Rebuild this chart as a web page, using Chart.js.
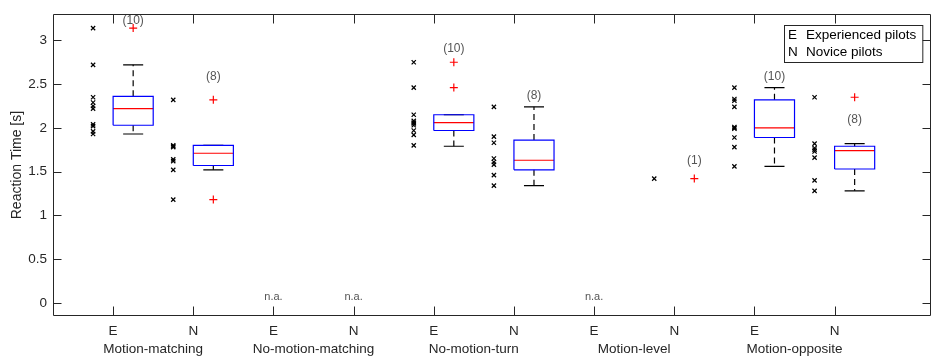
<!DOCTYPE html>
<html>
<head>
<meta charset="utf-8">
<script src="https://cdn.jsdelivr.net/npm/chart.js@4/dist/chart.umd.min.js"></script>
<style>
  body { margin: 0; background: #fff; }
  canvas { display: block; }
</style>
</head>
<body>
<canvas id="rt" width="936" height="362"></canvas>
<script>
// conditions and pilot groups (E = experienced, N = novice)
const groups = ['Motion-matching', 'No-motion-matching', 'No-motion-turn', 'Motion-level', 'Motion-opposite'];
const tickLabels = ['E', 'N', 'E', 'N', 'E', 'N', 'E', 'N', 'E', 'N'];
const yTicks = [0, 0.5, 1, 1.5, 2, 2.5, 3];

// individual reaction times [s], one list per box position
const expMM = [3.14, 2.72, 2.35, 2.29, 2.25, 2.22, 2.04, 2.02, 1.96, 1.93];
const novMM = [2.32, 1.80, 1.79, 1.78, 1.64, 1.62, 1.52, 1.18];
const expNMM = [];
const novNMM = [];
const expNMT = [2.75, 2.46, 2.15, 2.08, 2.06, 2.05, 2.03, 1.97, 1.92, 1.80];
const novNMT = [2.24, 1.90, 1.83, 1.65, 1.61, 1.58, 1.46, 1.34];
const expML = [];
const novML = [1.42];
const expMO = [2.46, 2.33, 2.31, 2.24, 2.01, 2.00, 1.99, 1.89, 1.78, 1.56];
const novMO = [2.35, 1.82, 1.77, 1.75, 1.73, 1.66, 1.40, 1.28];
const samples = [expMM, novMM, expNMM, novNMM, expNMT, novNMT, expML, novML, expMO, novMO];

// box statistics (null = no box)
const q1      = [2.03, 1.57, null, null, 1.97, 1.52, null, null, 1.89, 1.53];
const median  = [2.22, 1.71, null, null, 2.06, 1.63, null, null, 2.00, 1.74];
const q3      = [2.36, 1.80, null, null, 2.15, 1.86, null, null, 2.32, 1.79];
const whiskLo = [1.93, 1.52, null, null, 1.79, 1.34, null, null, 1.56, 1.28];
const whiskHi = [2.72, 1.80, null, null, 2.15, 2.24, null, null, 2.46, 1.82];
const outliers = [[3.14], [2.32, 1.18], [], [], [2.75, 2.46], [], [], [1.42], [], [2.35]];

// height (in s) where the "(n)" count is written
const countY = [3.22, 2.58, null, null, 2.90, 2.37, null, 1.63, 2.58, 2.09];
const naY = 0.07;

const FONT = "'Liberation Sans', Arial, Helvetica, sans-serif";
const AX = '#262626';
const boxW = 0.5, capW = 0.25, rawOff = -0.25;

const rawPts = [], boxPts = [], medPts = [], whiskPts = [], capPts = [], outPts = [];
samples.forEach((vals, i) => {
  const p = i + 1;
  vals.forEach(v => rawPts.push({x: p + rawOff, y: v}));
  const c = p + boxW / 2;
  outliers[i].forEach(v => outPts.push({x: c, y: v}));
  if (q1[i] == null) return;
  const a = p, b = p + boxW;
  boxPts.push({x: a, y: q1[i]}, {x: b, y: q1[i]}, {x: b, y: q3[i]}, {x: a, y: q3[i]}, {x: a, y: q1[i]}, {x: a, y: null});
  medPts.push({x: a, y: median[i]}, {x: b, y: median[i]}, {x: b, y: null});
  whiskPts.push({x: c, y: q3[i]}, {x: c, y: whiskHi[i]}, {x: c, y: null},
                {x: c, y: q1[i]}, {x: c, y: whiskLo[i]}, {x: c, y: null});
  capPts.push({x: c - capW / 2, y: whiskHi[i]}, {x: c + capW / 2, y: whiskHi[i]}, {x: c, y: null},
              {x: c - capW / 2, y: whiskLo[i]}, {x: c + capW / 2, y: whiskLo[i]}, {x: c, y: null});
});

function lineSet(data, color, dash) {
  return {
    data: data, showLine: true, borderColor: color, borderWidth: 1.2,
    borderDash: dash || [], pointRadius: 0, spanGaps: false, fill: false
  };
}

// box frame with inward ticks, group names, counts, legend
const extras = {
  id: 'extras',
  afterDatasetsDraw(chart) {
    const {ctx, scales: {x, y}} = chart;
    ctx.save();
    ctx.textAlign = 'center';
    ctx.textBaseline = 'middle';
    ctx.fillStyle = '#555';
    ctx.font = '12px ' + FONT;
    samples.forEach((vals, i) => {
      if (countY[i] != null) {
        ctx.fillText('(' + vals.length + ')', x.getPixelForValue(i + 1 + boxW / 2), y.getPixelForValue(countY[i]));
      }
      if (!vals.length) {
        ctx.font = '11px ' + FONT;
        ctx.fillText('n.a.', x.getPixelForValue(i + 1), y.getPixelForValue(naY));
        ctx.font = '12px ' + FONT;
      }
    });
    ctx.restore();
  },
  afterDraw(chart) {
    const {ctx, chartArea: a, scales: {x, y}} = chart;
    const L = Math.round(a.left) + 0.5, R = Math.round(a.right) - 0.5;
    const T = Math.round(a.top) + 0.5, B = Math.round(a.bottom) - 0.5;
    ctx.save();
    ctx.strokeStyle = AX;
    ctx.lineWidth = 1;
    ctx.beginPath();
    ctx.rect(L, T, R - L, B - T);
    yTicks.forEach(v => {
      const py = Math.round(y.getPixelForValue(v)) + 0.5;
      ctx.moveTo(L, py); ctx.lineTo(L + 8, py);
      ctx.moveTo(R, py); ctx.lineTo(R - 8, py);
    });
    tickLabels.forEach((_, i) => {
      const px = Math.round(x.getPixelForValue(i + 1)) + 0.5;
      ctx.moveTo(px, B); ctx.lineTo(px, B - 9);
      ctx.moveTo(px, T); ctx.lineTo(px, T + 9);
    });
    ctx.stroke();

    // condition names under each E/N pair
    ctx.fillStyle = AX;
    ctx.font = '13.5px ' + FONT;
    ctx.textAlign = 'center';
    ctx.textBaseline = 'middle';
    groups.forEach((g, k) => {
      ctx.fillText(g, x.getPixelForValue(2 * k + 1.5), 349);
    });

    // legend
    const lx = 784, ly = 25;
    const w = ctx.measureText('Experienced pilots').width + 22 + 6;
    ctx.fillStyle = '#fff';
    ctx.fillRect(lx, ly, w, 37);
    ctx.strokeRect(lx + 0.5, ly + 0.5, w, 37);
    ctx.fillStyle = '#000';
    ctx.textAlign = 'left';
    ctx.fillText('E', lx + 4, 35);
    ctx.fillText('Experienced pilots', lx + 22, 35);
    ctx.fillText('N', lx + 4, 52);
    ctx.fillText('Novice pilots', lx + 22, 52);
    ctx.restore();
  }
};

new Chart(document.getElementById('rt'), {
  type: 'scatter',
  data: {
    datasets: [
      {
        data: rawPts, pointStyle: 'crossRot', pointRadius: 3, pointHoverRadius: 3,
        borderColor: '#000', borderWidth: 1.2, showLine: false
      },
      lineSet(boxPts, '#0000ff'),
      lineSet(whiskPts, '#000', [6, 4]),
      lineSet(capPts, '#000'),
      lineSet(medPts, '#ff0000'),
      {
        data: outPts, pointStyle: 'cross', pointRadius: 4, pointHoverRadius: 4,
        borderColor: '#ff0000', borderWidth: 1.2, showLine: false
      }
    ]
  },
  options: {
    responsive: false,
    animation: false,
    devicePixelRatio: 1,
    layout: { padding: { top: 10, right: 1, left: 0, bottom: 0 } },
    plugins: { legend: { display: false }, tooltip: { enabled: false } },
    scales: {
      x: {
        type: 'linear', min: 0.25, max: 11.2,
        grid: { display: false, drawTicks: false },
        border: { display: false },
        afterBuildTicks: s => { s.ticks = tickLabels.map((_, i) => ({value: i + 1})); },
        afterFit: s => { s.height = 46; },
        ticks: {
          padding: 7, maxRotation: 0, autoSkip: false,
          color: AX, font: { family: FONT, size: 13.5 },
          callback: (v, i) => tickLabels[i]
        }
      },
      y: {
        min: -0.15, max: 3.3,
        grid: { display: false, drawTicks: false },
        border: { display: false },
        afterBuildTicks: s => { s.ticks = yTicks.map(v => ({value: v})); },
        afterFit: s => { s.width = 53; },
        ticks: {
          padding: 6, color: AX, font: { family: FONT, size: 13.5 },
          callback: v => String(v)
        },
        title: {
          display: true, text: 'Reaction Time [s]', color: AX,
          font: { family: FONT, size: 14 }, padding: { top: 9, bottom: 0 }
        }
      }
    }
  },
  plugins: [extras]
});
</script>
</body>
</html>
